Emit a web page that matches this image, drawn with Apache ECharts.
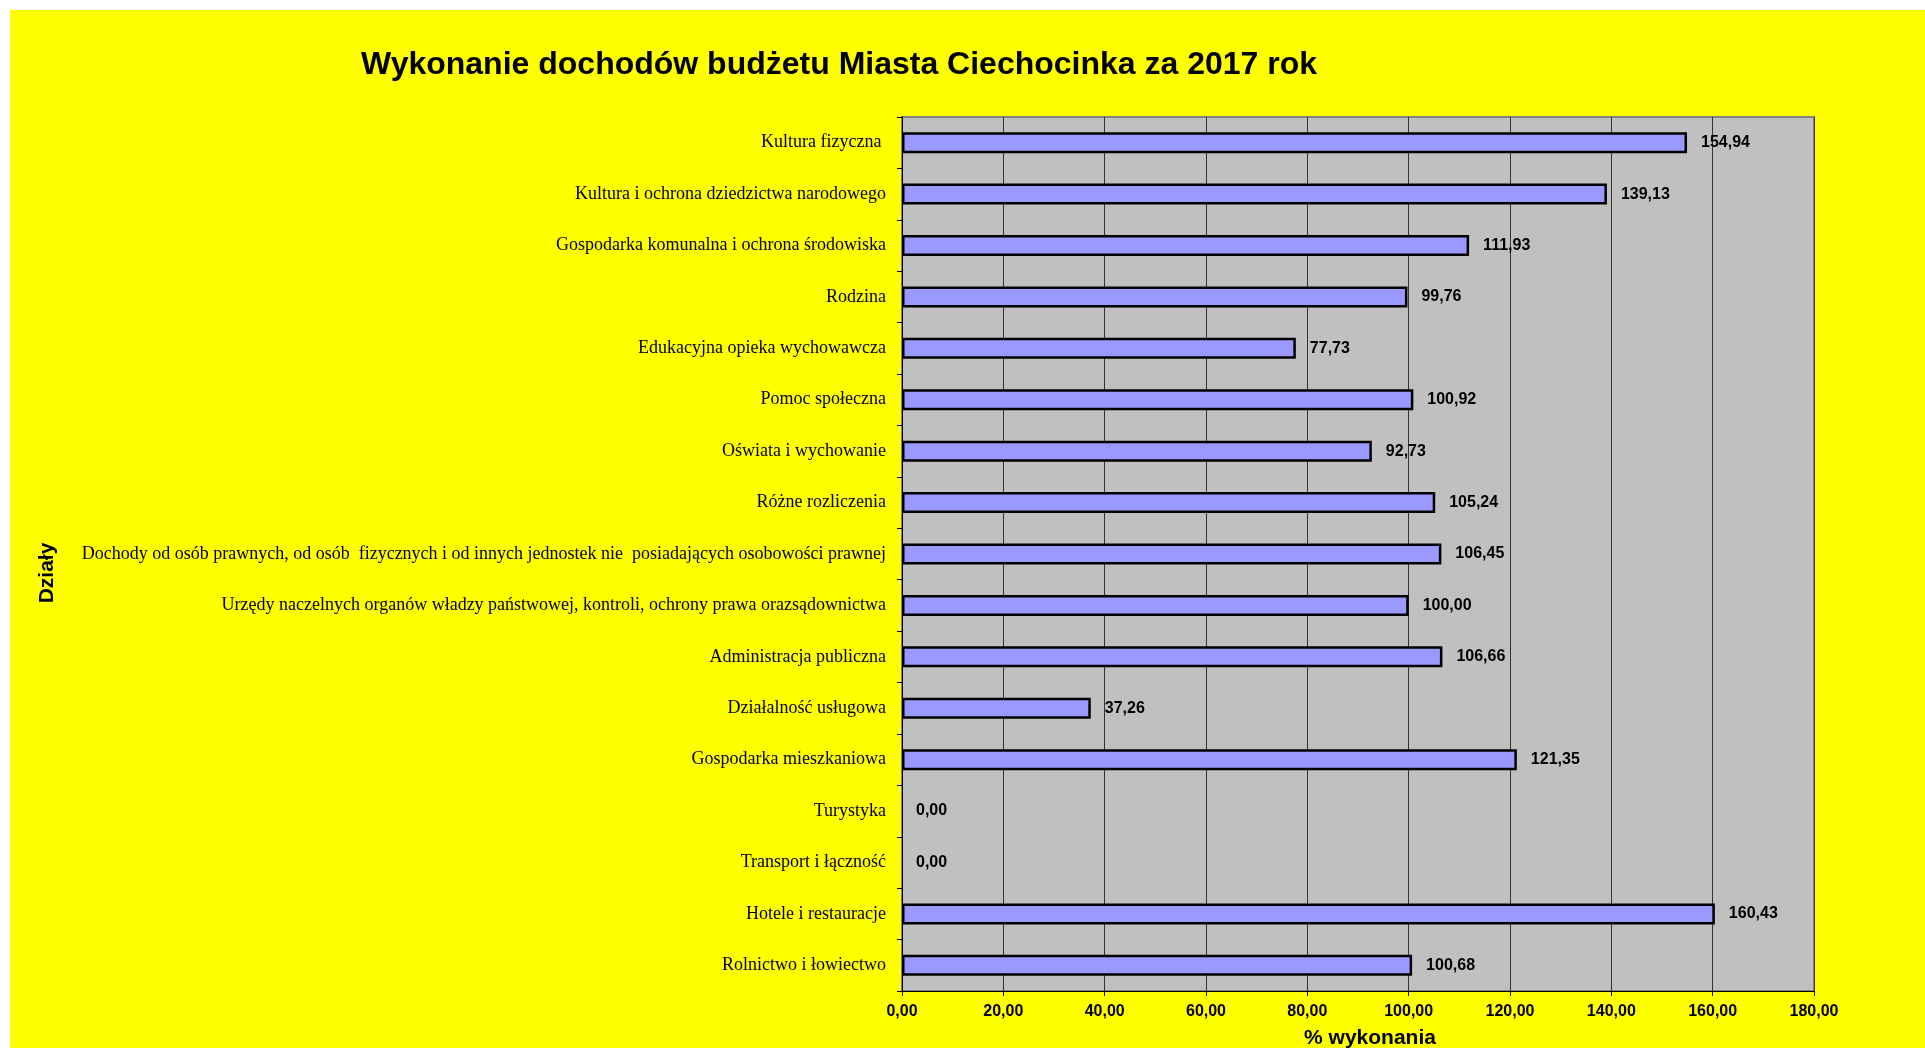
<!DOCTYPE html>
<html>
<head>
<meta charset="utf-8">
<script src="https://cdn.jsdelivr.net/npm/echarts@6/dist/echarts.min.js"></script>
<style>
  html, body { margin: 0; padding: 0; background: #ffffff; }
  #chart { width: 1925px; height: 1048px; }
</style>
</head>
<body>
<div id="chart"></div>
<script>
// działy, od góry do dołu
var categories = [
  'Kultura fizyczna ',
  'Kultura i ochrona dziedzictwa narodowego',
  'Gospodarka komunalna i ochrona środowiska',
  'Rodzina',
  'Edukacyjna opieka wychowawcza',
  'Pomoc społeczna',
  'Oświata i wychowanie',
  'Różne rozliczenia',
  'Dochody od osób prawnych, od osób  fizycznych i od innych jednostek nie  posiadających osobowości prawnej',
  'Urzędy naczelnych organów władzy państwowej, kontroli, ochrony prawa orazsądownictwa',
  'Administracja publiczna',
  'Działalność usługowa',
  'Gospodarka mieszkaniowa',
  'Turystyka',
  'Transport i łączność',
  'Hotele i restauracje',
  'Rolnictwo i łowiectwo'
]
// % wykonania
var values = [154.94, 139.13, 111.93, 99.76, 77.73, 100.92, 92.73, 105.24, 106.45, 100.00, 106.66, 37.26, 121.35, 0.00, 0.00, 160.43, 100.68]
var xTicks = { min: 0, max: 180, interval: 20 }

function fmt (v) {
  return Number(v).toFixed(2).replace('.', ',')
}

var chart = echarts.init(document.getElementById('chart'))

// słupki o wartości 0 bez obramowania
var barData = values.map(function (v) {
  return v === 0 ? { value: v, itemStyle: { borderWidth: 0 } } : v
})

chart.setOption({
  backgroundColor: '#FFFF00',
  animation: false,
  title: {
    text: 'Wykonanie dochodów budżetu Miasta Ciechocinka za 2017 rok',
    left: 356,
    top: 44,
    textStyle: {
      fontFamily: 'Liberation Sans',
      fontSize: 32,
      fontWeight: 'bold',
      color: '#000'
    }
  },
  graphic: [
    // biały margines u góry i z lewej
    { type: 'rect', left: 0, top: 0, shape: { width: 1925, height: 10 }, style: { fill: '#fff' }, silent: true },
    { type: 'rect', left: 0, top: 0, shape: { width: 10, height: 1048 }, style: { fill: '#fff' }, silent: true },
    {
      type: 'text',
      x: 47,
      y: 573,
      rotation: Math.PI / 2,
      style: {
        text: 'Działy',
        font: 'bold 21px "Liberation Sans"',
        fill: '#000',
        align: 'center',
        verticalAlign: 'middle'
      }
    }
  ],
  grid: {
    left: 902,
    top: 117,
    right: 111,
    bottom: 57,
    containLabel: false,
    outerBoundsMode: 'none',
    show: true,
    backgroundColor: '#C0C0C0',
    borderColor: '#808080',
    borderWidth: 2
  },
  xAxis: {
    type: 'value',
    min: xTicks.min,
    max: xTicks.max,
    interval: xTicks.interval,
    name: '% wykonania',
    nameLocation: 'middle',
    nameGap: 37,
    nameTextStyle: {
      fontFamily: 'Liberation Sans',
      fontSize: 21,
      fontWeight: 'bold',
      color: '#000',
      padding: [0, 0, 0, 24]
    },
    axisLine: { show: true, lineStyle: { color: '#000', width: 1 } },
    axisTick: { show: true, length: 5, lineStyle: { color: '#000' } },
    axisLabel: {
      margin: 13,
      fontFamily: 'Liberation Sans',
      fontSize: 16,
      fontWeight: 'bold',
      color: '#000',
      formatter: fmt
    },
    splitLine: { show: true, lineStyle: { color: '#333', width: 1 } }
  },
  yAxis: {
    type: 'category',
    inverse: true,
    data: categories,
    axisLine: { show: true, lineStyle: { color: '#000', width: 1 } },
    axisTick: { show: true, length: 5, lineStyle: { color: '#000' } },
    axisLabel: {
      margin: 16,
      fontFamily: 'Liberation Serif',
      fontSize: 18,
      color: '#000'
    },
    splitLine: { show: false }
  },
  series: [{
    type: 'bar',
    data: barData,
    barWidth: 21,
    itemStyle: {
      color: '#9999FF',
      borderColor: '#000',
      borderWidth: 2.5
    },
    label: {
      show: true,
      position: 'right',
      distance: 14,
      fontFamily: 'Liberation Sans',
      fontSize: 16,
      fontWeight: 'bold',
      color: '#000',
      formatter: function (p) { return fmt(p.value) }
    }
  }]
})
</script>
</body>
</html>
